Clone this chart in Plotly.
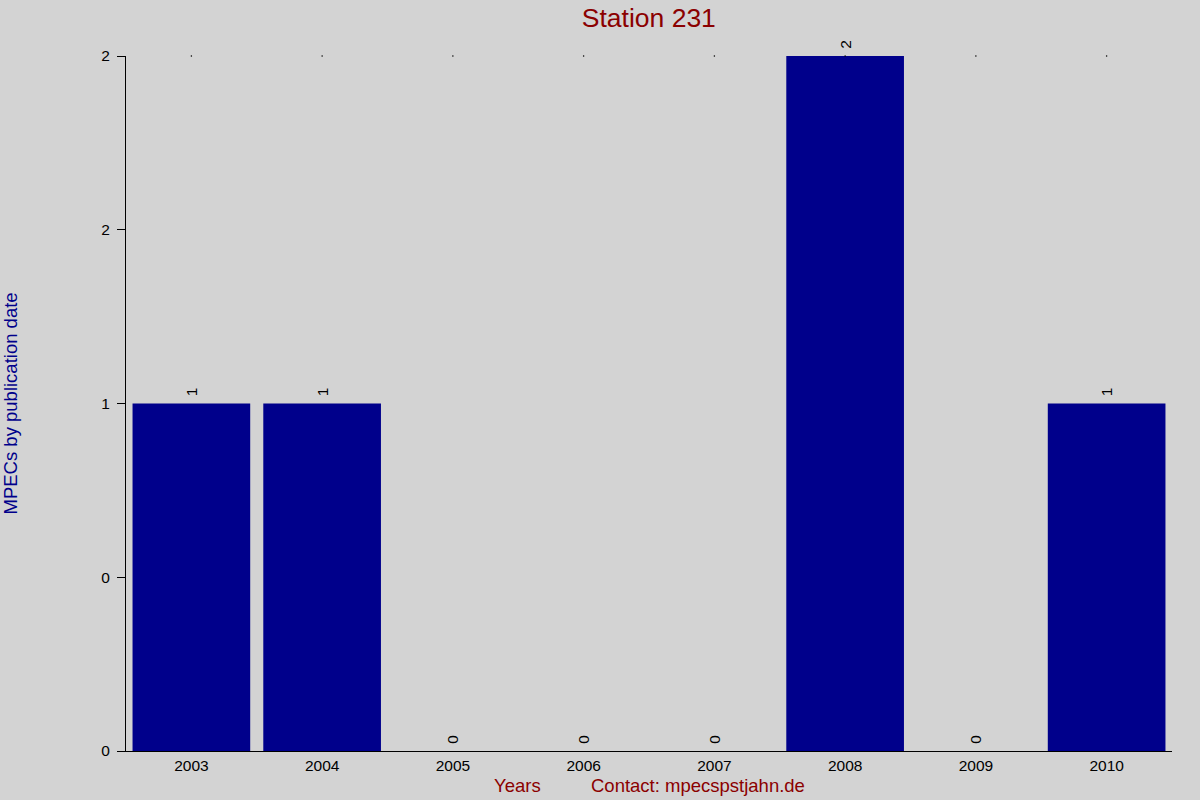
import plotly.graph_objs as go

# =============================================================================
# Data
# =============================================================================

years = ["2003", "2004", "2005", "2006", "2007", "2008", "2009", "2010"]
mpecs = [1, 1, 0, 0, 0, 2, 0, 1]
y_tickvals = [0, 0.5, 1, 1.5, 2]
y_ticktext = ["0", "0", "1", "2", "2"]

# =============================================================================
# Figure
# =============================================================================

FONT = "Liberation Sans, Arial"

fig = go.Figure(data=[
    go.Bar(x=years,
           y=mpecs,
           # leading nbsp gives a little more room between bar and label
           text=["\u00a0" + str(v) for v in mpecs],
           textposition="outside",
           textangle=-90,
           cliponaxis=False,
           textfont=dict(family=FONT, size=15.5, color="#000000"),
           marker_color="#00008B",
           marker_line_width=0,
           hoverinfo="x+y"),
    # tiny dots along the top edge, one per year
    go.Scatter(x=years,
               y=[max(mpecs)] * len(years),
               mode="markers",
               marker=dict(size=1.5, color="#000000"),
               cliponaxis=False,
               hoverinfo="skip"),
])

fig.update_layout(
    width=1200,
    height=800,
    paper_bgcolor="#D3D3D3",
    plot_bgcolor="#D3D3D3",
    bargap=0.1,
    showlegend=False,
    margin=dict(l=126, r=28, t=56, b=49),
    font=dict(family=FONT, size=15.5, color="#000000"),
    title=dict(text="Station 231",
               x=0.5407, xanchor="center",
               y=0.978, yanchor="middle",
               font=dict(size=26.5, color="#8B0000")),
    xaxis=dict(
        type="category",
        showgrid=False,
        showline=True,
        linecolor="#000000",
        linewidth=1,
        ticks="",
        tickfont=dict(size=15.5),
        zeroline=False,
        fixedrange=True,
    ),
    yaxis=dict(
        range=[0, 2],
        tickvals=y_tickvals,
        ticktext=y_ticktext,
        showgrid=False,
        showline=True,
        linecolor="#000000",
        linewidth=1,
        ticks="outside",
        ticklen=8,
        tickwidth=1,
        tickcolor="#000000",
        tickfont=dict(size=15.5),
        ticklabelstandoff=4,
        zeroline=False,
        fixedrange=True,
    ),
)

# y axis title, far left
fig.add_annotation(text="MPECs by publication date", xref="paper", yref="paper",
                   x=(10 - 126) / 1046, y=0.5, xanchor="center", yanchor="middle",
                   textangle=-90, showarrow=False,
                   font=dict(size=18.5, color="#00008B"))

# x axis title and contact line
fig.add_annotation(text="Years", xref="paper", yref="paper",
                   x=(517 - 126) / 1046, y=-(786 - 751) / 695,
                   xanchor="center", yanchor="middle",
                   showarrow=False, font=dict(size=18.5, color="#8B0000"))
fig.add_annotation(text="Contact: mpecspstjahn.de", xref="paper", yref="paper",
                   x=(698 - 126) / 1046, y=-(786 - 751) / 695,
                   xanchor="center", yanchor="middle",
                   showarrow=False, font=dict(size=18.5, color="#8B0000"))

fig.write_html("out.html",
               config=dict(displayModeBar=False),
               post_script="document.body.style.margin='0';")
